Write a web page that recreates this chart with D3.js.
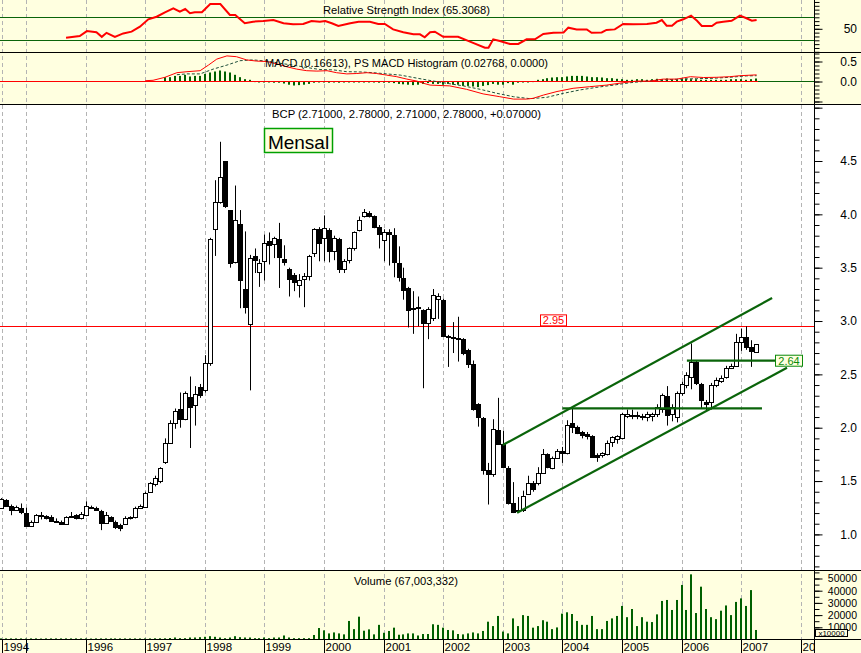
<!DOCTYPE html>
<html><head><meta charset="utf-8">
<script src="https://cdn.jsdelivr.net/npm/d3@7"></script>
<style>body{margin:0;background:#fff}svg{display:block}text{font-family:"Liberation Sans",Arial,sans-serif}</style>
</head><body><svg id="c" width="861" height="653"></svg>
<script>
// ---------------- DATA ----------------
const firstYear = 1994, firstMonth = 7; // Aug 1994 (0-based month)
const opens  = [1.25,1.32,1.27,1.23,1.25,1.20,1.08,1.12,1.17,1.17,1.16,1.13,1.12,1.10,1.16,1.18,1.15,1.18,1.26,1.25,1.22,1.11,1.16,1.12,1.09,1.10,1.15,1.16,1.25,
1.26,1.40,1.47,1.50,1.68,1.86,2.04,2.18,2.08,2.29,2.21,2.38,
2.35,2.61,3.86,4.12,4.50,4.04,3.55,3.91,3.30,2.97,3.61,3.46,
3.56,3.75,3.72,3.77,3.58,3.49,3.43,3.34,3.39,3.42,3.64,3.86,
3.78,3.85,3.66,3.77,3.49,3.57,3.68,3.85,3.98,4.01,3.98,3.88,
3.76,3.83,3.81,3.54,3.40,3.31,3.12,3.13,3.10,2.98,3.03,3.21,
3.20,2.86,2.85,2.84,2.83,2.73,2.60,2.22,2.09,1.60,1.57,1.98,
1.85,1.62,1.29,1.22,1.23,1.38,1.48,1.48,1.58,1.75,1.62,1.72,
1.78,1.76,2.04,2.01,1.96,1.94,1.92,1.74,1.74,1.75,1.87,1.89,
1.90,2.11,2.12,2.12,2.11,2.10,2.11,2.13,2.18,2.30,2.13,2.10,
2.33,2.40,2.48,2.62,2.41,2.24,2.24,2.40,2.44,2.48,2.56,2.58,
2.80,2.85,2.76,2.71];
const highs  = [1.34,1.33,1.28,1.27,1.29,1.25,1.13,1.19,1.21,1.18,1.18,1.15,1.13,1.17,1.21,1.19,1.21,1.31,1.27,1.26,1.23,1.21,1.17,1.13,1.10,1.17,1.17,1.26,1.28,
1.40,1.49,1.55,1.63,1.90,2.07,2.18,2.33,2.34,2.48,2.39,2.41,
2.68,3.78,4.32,4.68,4.50,4.04,4.27,4.04,3.84,3.62,3.68,3.58,
3.81,3.83,3.79,3.92,3.71,3.50,3.45,3.44,3.45,3.62,3.87,3.88,
3.99,3.87,3.80,3.78,3.58,3.69,3.84,3.98,4.05,4.03,3.99,3.90,
3.86,3.86,3.87,3.70,3.50,3.32,3.28,3.23,3.11,3.13,3.30,3.26,
3.21,2.87,2.99,3.04,2.84,2.74,2.63,2.23,2.10,1.67,2.08,2.28,
1.97,1.64,1.49,1.35,1.41,1.55,1.50,1.63,1.80,1.76,1.73,1.80,
1.82,2.07,2.18,2.02,1.97,1.96,1.93,1.76,1.77,1.88,1.92,1.93,
2.14,2.17,2.17,2.15,2.13,2.15,2.14,2.22,2.32,2.39,2.22,2.34,
2.43,2.52,2.79,2.63,2.42,2.26,2.42,2.47,2.49,2.58,2.60,2.88,
2.93,2.95,2.82,2.78];
const lows   = [1.24,1.26,1.18,1.22,1.19,1.07,1.07,1.11,1.14,1.14,1.12,1.12,1.09,1.10,1.16,1.14,1.14,1.17,1.24,1.22,1.04,1.10,1.12,1.05,1.03,1.09,1.14,1.15,1.24,
1.25,1.39,1.45,1.48,1.66,1.85,1.99,2.00,2.07,1.81,2.02,2.28,
2.33,2.58,3.61,4.10,4.06,3.50,3.54,3.12,3.07,2.35,3.45,3.32,
3.38,3.53,3.59,3.31,3.52,3.23,3.28,3.22,3.13,3.38,3.60,3.56,
3.56,3.55,3.57,3.45,3.45,3.54,3.66,3.84,3.97,3.97,3.87,3.68,
3.56,3.52,3.41,3.37,3.20,2.94,2.88,2.95,2.37,2.83,3.00,3.02,
2.85,2.57,2.70,2.62,2.68,2.56,2.16,2.01,1.56,1.28,1.54,1.84,
1.62,1.28,1.20,1.20,1.21,1.37,1.40,1.46,1.57,1.62,1.61,1.71,
1.67,1.75,1.95,1.94,1.90,1.89,1.72,1.68,1.72,1.74,1.82,1.85,
1.89,2.09,2.08,2.08,2.07,2.06,2.06,2.10,2.14,2.02,2.06,2.05,
2.30,2.37,2.36,2.40,2.18,2.16,2.17,2.38,2.42,2.46,2.55,2.57,
2.72,2.73,2.57,2.71];
const closes = [1.33,1.27,1.23,1.26,1.21,1.08,1.12,1.18,1.18,1.15,1.13,1.12,1.10,1.16,1.17,1.15,1.19,1.27,1.25,1.23,1.11,1.18,1.13,1.07,1.06,1.15,1.16,1.25,1.27,
1.39,1.48,1.53,1.62,1.86,2.04,2.16,2.08,2.33,2.19,2.32,2.31,
2.61,3.77,4.12,4.35,4.08,3.54,3.95,3.38,3.13,3.59,3.57,3.54,
3.73,3.71,3.78,3.60,3.55,3.39,3.37,3.38,3.42,3.61,3.86,3.73,
3.87,3.66,3.78,3.49,3.56,3.68,3.83,3.95,4.02,3.98,3.88,3.82,
3.83,3.82,3.55,3.41,3.29,3.10,3.11,3.12,2.98,3.11,3.24,3.23,
2.86,2.85,2.84,2.84,2.70,2.60,2.18,2.10,1.60,1.57,1.99,1.85,
1.63,1.29,1.21,1.23,1.36,1.48,1.43,1.58,1.75,1.63,1.72,1.78,
1.76,2.03,2.01,1.95,1.93,1.92,1.73,1.73,1.76,1.86,1.91,1.92,
2.13,2.13,2.11,2.11,2.10,2.13,2.13,2.19,2.31,2.12,2.19,2.33,
2.41,2.49,2.62,2.42,2.26,2.22,2.40,2.45,2.47,2.56,2.58,2.80,
2.85,2.76,2.72,2.78];
const volumes = [900,900,900,900,900,800,900,900,800,900,900,900,900,900,900,900,900,900,800,900,900,900,900,900,900,900,900,900,900,
900,900,1000,1000,1000,1200,1640,1100,1100,1640,1640,1900,
2200,2700,2200,1640,1100,1640,2700,1900,1640,1640,1100,1100,
1640,1100,1640,1640,3300,1640,1100,1100,1100,1100,3700,9400,
7500,5000,5800,5000,4200,15200,8500,18700,7200,8300,4200,12000,
5500,7000,9700,3900,4200,5000,5000,3300,4500,4500,12500,12000,
9700,7800,7500,4500,4200,5000,5800,5000,7000,14600,11000,19300,
6500,5000,17300,11000,20000,19300,9700,11000,15800,14600,8500,9900,
21200,22300,20900,15200,12000,12000,19300,8500,8500,15200,17300,19300,
27500,18300,25000,11000,18300,14600,14300,20600,31600,32400,24200,32400,
44700,24200,53400,21700,43300,25000,18300,16700,23600,27900,20000,30800,
33700,27500,40500,7800];
const rsiT = [1995.67,1995.90,1996.02,1996.18,1996.27,1996.35,1996.49,1996.63,1996.77,1996.91,1997.05,1997.19,1997.33,1997.47,1997.58,1997.67,1997.75,1997.83,1997.95,1998.09,1998.26,1998.42,1998.51,1998.67,1998.81,1998.98,1999.15,1999.32,1999.48,1999.65,1999.79,1999.93,2000.02,2000.13,2000.24,2000.44,2000.58,2000.77,2000.91,2001.02,2001.16,2001.33,2001.50,2001.61,2001.69,2001.78,2001.86,2002.00,2002.25,2002.45,2002.70,2002.76,2002.84,2002.95,2003.12,2003.26,2003.40,2003.54,2003.68,2003.85,2004.02,2004.10,2004.24,2004.41,2004.49,2004.66,2004.74,2004.88,2005.02,2005.19,2005.42,2005.58,2005.67,2005.75,2005.84,2005.92,2006.03,2006.16,2006.26,2006.34,2006.51,2006.59,2006.70,2006.84,2006.98,2007.09,2007.18,2007.26];
const rsiV = [34.5,37.5,46,44,36,43,36,42,45,53.7,66.5,71,78.7,85.6,79.7,84.4,77,78.7,78.7,93,93,74,74,59.6,62.4,63.6,65.3,59.6,57.8,58.3,63.6,62.4,63.6,59.6,54.9,59.6,62.4,62.4,58.3,58.3,49,44,40.4,40.4,35.2,44,45,36,36,27.6,17,17,31.7,28.8,23.6,23.6,31.7,31.7,41,43,43.6,52,49,49,43,43.6,48,49,58.3,57.8,58.3,60.6,65.3,55.4,55.4,62.4,66.5,72.8,64,54.9,54.9,60.6,62.4,64,72.8,68.3,64,65.3];
const macdT = [1997.0,1997.13,1997.33,1997.53,1997.70,1997.92,1998.06,1998.20,1998.37,1998.53,1998.70,1998.87,1999.04,1999.21,1999.37,1999.54,1999.71,1999.88,2000.05,2000.21,2000.38,2000.55,2000.72,2000.88,2001.05,2001.22,2001.39,2001.56,2001.67,2001.78,2002.11,2002.39,2002.67,2002.95,2003.18,2003.40,2003.51,2003.68,2003.91,2004.18,2004.46,2004.74,2005.02,2005.25,2005.47,2005.69,2005.92,2006.15,2006.37,2006.59,2006.81,2006.98,2007.26];
const macdV = [0.02,0.03,0.105,0.22,0.245,0.27,0.41,0.56,0.64,0.62,0.54,0.51,0.50,0.44,0.37,0.31,0.27,0.26,0.27,0.22,0.19,0.20,0.22,0.20,0.16,0.12,0.06,0.01,-0.045,-0.09,-0.11,-0.195,-0.31,-0.38,-0.44,-0.44,-0.42,-0.34,-0.25,-0.17,-0.13,-0.09,-0.03,0.01,0.01,0.06,0.06,0.12,0.10,0.105,0.12,0.145,0.166];
const signalT = [1997.53,1997.70,1997.92,1998.14,1998.37,1998.59,1998.81,1999.04,1999.26,1999.48,1999.71,1999.93,2000.16,2000.38,2000.60,2000.83,2001.05,2001.28,2001.50,2001.72,2002.06,2002.34,2002.62,2002.90,2003.18,2003.46,2003.74,2004.02,2004.30,2004.58,2004.86,2005.14,2005.42,2005.69,2005.97,2006.25,2006.53,2006.81,2007.09,2007.26];
const signalV = [0.17,0.19,0.19,0.31,0.41,0.52,0.54,0.51,0.455,0.41,0.35,0.30,0.29,0.245,0.24,0.22,0.19,0.16,0.10,0.04,-0.045,-0.11,-0.195,-0.295,-0.38,-0.43,-0.395,-0.295,-0.21,-0.145,-0.09,-0.03,0.01,0.04,0.06,0.07,0.08,0.105,0.14,0.145];
const histStartIndex = 33; // May 1997
const histV = [0.108,0.108,0.14,0.14,0.167,0.125,0.14,0.14,0.19,0.225,0.25,0.275,0.25,0.225,0.167,0.108,0.058,0.042,0.01,
-0.01,-0.02,-0.02,-0.03,-0.03,-0.05,-0.08,-0.1,-0.09,-0.08,-0.06,-0.03,-0.02,-0.02,-0.03,-0.02,-0.03,-0.02,-0.02,-0.01,-0.01,-0.01,-0.02,-0.02,-0.03,-0.03,-0.03,-0.04,-0.06,-0.07,-0.08,-0.09,-0.08,-0.06,
-0.04,-0.06,-0.06,-0.08,-0.06,-0.08,-0.08,-0.11,-0.11,-0.125,-0.14,-0.11,-0.09,-0.06,-0.08,-0.08,-0.04,-0.08,-0.03,-0.02,-0.01,
0.01,0.042,0.058,0.083,0.1,0.108,0.108,0.125,0.14,0.14,0.14,0.125,0.108,0.108,0.1,0.083,0.083,0.067,0.058,0.042,0.042,0.058,0.058,0.042,0.058,0.067,0.058,0.075,0.058,0.058,0.075,0.075,0.058,0.058,0.042,0.042,0.042,0.042,0.042,0.042,0.058,0.058,0.058,0.042,0.058,0.075];
const yearTicks  = [1994.6,1995,1996,1997,1998,1999,2000,2001,2002,2003,2004,2005,2006,2007,2008];
const yearLabels = ["1994","","1996","1997","1998","1999","2000","2001","2002","2003","2004","2005","2006","2007","2008"];
const channelUpper = [[2003.0,1.838],[2007.52,3.216]];
const channelLower = [[2003.24,1.203],[2007.77,2.562]];
const supportLine  = [[2004.0,2.181],[2007.35,2.181]];
const resistLine   = [[2006.09,2.628],[2007.57,2.628]];
const redLevel = 2.95, redLabelT = 2003.63;
const titles = {rsi:"Relative Strength Index (65.3068)", macd:"MACD (0.16613), PS MACD Histogram (0.02768, 0.0000)",
  price:"BCP (2.71000, 2.78000, 2.71000, 2.78000, +0.07000)", vol:"Volume (67,003,332)"};

// ---------------- LAYOUT ----------------
const svg = d3.select("#c");
const W = 861, AX = 814.5;
const YEL = "#FFFFE0", GREEN = "#0a640a", DGREEN = "#006000";
const x = d3.scaleLinear().domain([1996,2008]).range([85.7,800.7]);
const yP = d3.scaleLinear().domain([1,4.5]).range([534.4,161]);
const yV = d3.scaleLinear().domain([0,50000]).range([639.5,578.5]);
const yR = d3.scaleLinear().domain([30,70]).range([40.3,17.3]);
const yM = d3.scaleLinear().domain([0,0.5]).range([81.5,61.5]);

const bars = opens.map((o,i)=>({i, t:firstYear+(firstMonth+i)/12, o, h:highs[i], l:lows[i], c:closes[i], v:volumes[i]}));
const px = t => Math.round(x(t));

// backgrounds
svg.append("rect").attr("x",0).attr("y",0).attr("width",W).attr("height",104).attr("fill",YEL);
svg.append("rect").attr("x",0).attr("y",104).attr("width",W).attr("height",466).attr("fill","#fff");
svg.append("rect").attr("x",0).attr("y",570).attr("width",W).attr("height",83).attr("fill",YEL);

// clip paths
const defs = svg.append("defs");
defs.append("clipPath").attr("id","cpMain").append("rect").attr("x",0).attr("y",105).attr("width",AX).attr("height",465);
defs.append("clipPath").attr("id","cpAll").append("rect").attr("x",0).attr("y",0).attr("width",AX).attr("height",653);

// grid
const grid = svg.append("g").attr("clip-path","url(#cpAll)");
yearTicks.forEach(t=>{
  grid.append("line").attr("x1",px(t)+0.5).attr("x2",px(t)+0.5).attr("y1",0).attr("y2",639)
    .attr("stroke","#b4b4b4").attr("stroke-dasharray","4,3");
});

// ---- RSI panel ----
[30,70].forEach(v=>svg.append("line").attr("x1",0).attr("x2",AX).attr("y1",Math.round(yR(v))+0.5).attr("y2",Math.round(yR(v))+0.5).attr("stroke",GREEN));
svg.append("path").datum(rsiT.map((t,i)=>[t,rsiV[i]]))
  .attr("d",d3.line().x(d=>x(d[0])).y(d=>yR(d[1]))).attr("fill","none").attr("stroke","#ff0000").attr("stroke-width",2);
svg.append("text").attr("x",406.5).attr("y",14).attr("text-anchor","middle").attr("font-size",11)
  .attr("textLength",167).attr("lengthAdjust","spacingAndGlyphs").text(titles.rsi);

// ---- MACD panel ----
svg.append("line").attr("x1",0).attr("x2",AX).attr("y1",yM(0)).attr("y2",yM(0)).attr("stroke",GREEN);
const hb = histV.map((v,k)=>({t:bars[histStartIndex+k].t, v}));
svg.append("g").selectAll("rect").data(hb).join("rect")
  .attr("x",d=>px(d.t)-1).attr("width",2)
  .attr("y",d=>Math.min(yM(d.v),yM(0))).attr("height",d=>Math.max(1,Math.abs(yM(d.v)-yM(0))))
  .attr("fill",DGREEN);
svg.append("line").attr("x1",0).attr("x2",px(bars[bars.length-1].t)+2).attr("y1",yM(0)).attr("y2",yM(0)).attr("stroke","#ff0000");
svg.append("path").datum(signalT.map((t,i)=>[t,signalV[i]]))
  .attr("d",d3.line().x(d=>x(d[0])).y(d=>yM(d[1]))).attr("fill","none").attr("stroke","#1e4e3a").attr("stroke-dasharray","3,2");
svg.append("path").datum(macdT.map((t,i)=>[t,macdV[i]]))
  .attr("d",d3.line().x(d=>x(d[0])).y(d=>yM(d[1]))).attr("fill","none").attr("stroke","#ff0000");
svg.append("text").attr("x",406.5).attr("y",66.5).attr("text-anchor","middle").attr("font-size",11)
  .attr("textLength",283).attr("lengthAdjust","spacingAndGlyphs").text(titles.macd);

// ---- Main panel ----
const main = svg.append("g").attr("clip-path","url(#cpMain)");
main.append("line").attr("x1",0).attr("x2",AX).attr("y1",Math.round(yP(redLevel))+0.5).attr("y2",Math.round(yP(redLevel))+0.5).attr("stroke","#ff0000");
const cg = main.append("g");
bars.forEach(b=>{
  const cx = px(b.t);
  cg.append("line").attr("x1",cx+0.5).attr("x2",cx+0.5).attr("y1",yP(b.h)).attr("y2",yP(b.l)).attr("stroke","#000");
  const top = Math.round(yP(Math.max(b.o,b.c))), bot = Math.round(yP(Math.min(b.o,b.c)));
  if (b.c >= b.o) {
    cg.append("rect").attr("x",cx-1.5).attr("y",top+0.5).attr("width",4).attr("height",Math.max(1,bot-top))
      .attr("fill","#fff").attr("stroke","#000");
  } else {
    cg.append("rect").attr("x",cx-2).attr("y",top).attr("width",5).attr("height",Math.max(2,bot-top+1)).attr("fill","#000");
  }
});
const lineG = d3.line().x(d=>x(d[0])).y(d=>yP(d[1]));
[channelUpper,channelLower,supportLine,resistLine].forEach(l=>{
  main.append("path").datum(l).attr("d",lineG).attr("stroke",GREEN).attr("stroke-width",2.2).attr("fill","none");
});
// labels on lines
function tagBox(xl, yc, w, txt, col, fill){
  main.append("rect").attr("x",xl+0.5).attr("y",yc-5.5).attr("width",w).attr("height",11).attr("fill",fill).attr("stroke",col);
  main.append("text").attr("x",xl+w/2+0.5).attr("y",yc+4).attr("text-anchor","middle").attr("font-size",11).attr("fill",col).text(txt);
}
tagBox(Math.round(x(redLabelT)), yP(redLevel)-6, 26, "2.95", "#ff0000", "#fff");
tagBox(Math.round(x(resistLine[1][0])), yP(resistLine[1][1]), 27, "2.64", "#0a8a0a", YEL);
main.append("text").attr("x",406.5).attr("y",118).attr("text-anchor","middle").attr("font-size",11)
  .attr("textLength",269).attr("lengthAdjust","spacingAndGlyphs").text(titles.price);
main.append("rect").attr("x",264.5).attr("y",128.5).attr("width",68).attr("height",24).attr("fill",YEL).attr("stroke","#00a000").attr("stroke-width",1.5);
main.append("text").attr("x",298.5).attr("y",148.5).attr("text-anchor","middle").attr("font-size",19).text("Mensal");

// ---- Volume panel ----
svg.append("g").selectAll("rect").data(bars).join("rect")
  .attr("x",d=>px(d.t)-1).attr("width",2)
  .attr("y",d=>yV(d.v)).attr("height",d=>yV(0)-yV(d.v)).attr("fill",DGREEN);
svg.append("text").attr("x",406).attr("y",585).attr("text-anchor","middle").attr("font-size",11)
  .attr("textLength",104).attr("lengthAdjust","spacingAndGlyphs").text(titles.vol);

// ---- panel borders ----
[52.5,104.5,570.5,639.5].forEach(y=>svg.append("line").attr("x1",0).attr("x2",W).attr("y1",y).attr("y2",y).attr("stroke","#000"));

// ---- right axes ----
function rightAxis(scale, minorVals, majorVals, labelVals, fmt, fs){
  const g = svg.append("g").attr("transform",`translate(${AX},0)`);
  g.call(d3.axisRight(scale).tickValues(minorVals).tickSize(5).tickFormat(""));
  const g2 = svg.append("g").attr("transform",`translate(${AX},0)`);
  g2.call(d3.axisRight(scale).tickValues(majorVals).tickSize(8).tickFormat(d=>labelVals.some(l=>Math.abs(l-d)<1e-9)?fmt(d):""));
  [g,g2].forEach(gg=>{gg.select(".domain").remove(); gg.selectAll("line").attr("stroke","#000");});
  g2.selectAll("text").attr("x",42.5).attr("text-anchor","end").attr("font-size",fs).attr("fill","#000")
    .attr("font-family","'Liberation Sans',Arial,sans-serif");
}
const rsiTicks = d3.range(-6,8).map(k=>50+k*20/3).filter(v=>yR(v)>0.5&&yR(v)<52);
rightAxis(yR, rsiTicks, [50], [50], d3.format("d"), 12);
const macdTicks = d3.range(-5,8).map(k=>k/10).filter(v=>yM(v)>53&&yM(v)<104);
rightAxis(yM, macdTicks, [-0.5,0,0.5], [0,0.5], d3.format(".1f"), 12);
const priceTicks = d3.range(7,51).map(k=>k/10).filter(v=>yP(v)>105&&yP(v)<570);
rightAxis(yP, priceTicks, d3.range(2,11).map(k=>k/2), d3.range(2,10).map(k=>k/2), d3.format(".1f"), 12);
const volTicks = d3.range(0,12).map(k=>k*5000).filter(v=>yV(v)>571&&yV(v)<639);
rightAxis(yV, volTicks, [10000,20000,30000,40000,50000], [10000,20000,30000,40000,50000], d3.format("d"), 10.5);
svg.append("line").attr("x1",AX).attr("x2",AX).attr("y1",0).attr("y2",653).attr("stroke","#000");
svg.append("rect").attr("x",815.5).attr("y",629.5).attr("width",32).attr("height",7).attr("fill",YEL).attr("stroke","#000");
svg.append("text").attr("x",831.5).attr("y",635.8).attr("text-anchor","middle").attr("font-size",8).text("x10000");

// ---- bottom time axis ----
const bx = svg.append("g").attr("transform","translate(0,639)").attr("clip-path","url(#cpAll)");
bx.call(d3.axisBottom(x).tickValues(yearTicks).tickSize(14).tickFormat((d,i)=>yearLabels[i]));
bx.select(".domain").remove();
bx.selectAll(".tick line").attr("stroke","#000");
bx.selectAll(".tick").attr("transform",d=>`translate(${px(d)+0.5},0)`);
bx.selectAll("text").attr("x",1).attr("y",12).attr("dy",0).attr("text-anchor","start").attr("font-size",11.5)
  .attr("fill","#000").attr("font-family","'Liberation Sans',Arial,sans-serif");
</script></body></html>
